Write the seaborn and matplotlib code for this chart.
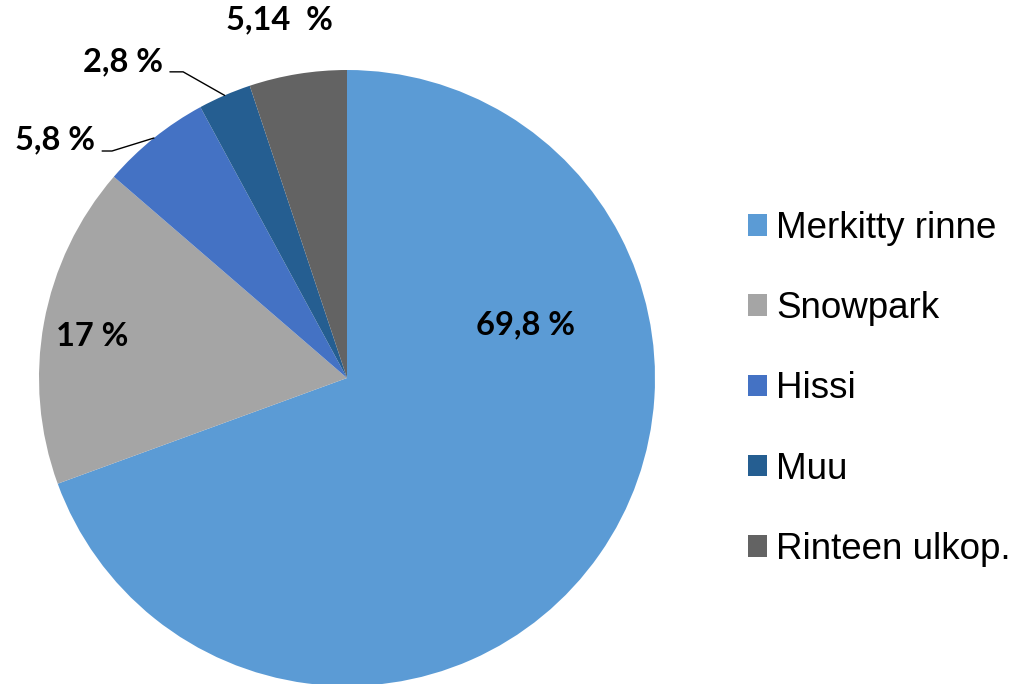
import numpy as np
import matplotlib.pyplot as plt
import seaborn as sns
from matplotlib.patches import Patch

sns.set_style("white")
plt.rcParams['font.family'] = ['Liberation Sans', 'DejaVu Sans']
plt.rcParams['text.color'] = 'black'

# data
categories = ['Merkitty rinne', 'Snowpark', 'Hissi', 'Muu', 'Rinteen ulkop.']
shares = [69.8, 17, 5.8, 2.8, 5.14]
value_labels = ['69,8 %', '17 %', '5,8 %', '2,8 %', '5,14  %']
palette = sns.color_palette(['#5B9BD5', '#A5A5A5', '#4472C4', '#255E91', '#636363'])

fig = plt.figure(figsize=(10.16, 6.84), dpi=100)
ax = fig.add_axes([39 / 1016, -2 / 684, 616 / 1016, 616 / 684])

wedges, _ = ax.pie(shares, colors=palette, startangle=90, counterclock=False,
                   radius=1, wedgeprops=dict(linewidth=0))
ax.set_xlim(-1, 1)
ax.set_ylim(-1, 1)
ax.set_aspect('equal')
ax.axis('off')

lbl_font = dict(family=['Lato', 'DejaVu Sans'], fontweight='bold', fontsize=23.5,
                ha='center', va='center', color='black')

# inside labels
ax.text(0.578, 0.172, value_labels[0], **lbl_font)
ax.text(-0.828, 0.136, value_labels[1], **lbl_font)
# outside labels with leader lines for the small slices
ax.text(-0.218, 1.162, value_labels[4], clip_on=False, **lbl_font)

leaders = {2: ((-0.948, 0.773), [(-0.763, 0.737), (-0.795, 0.737)]),
           3: ((-0.727, 1.026), [(-0.532, 0.994), (-0.575, 0.994)])}
for i, (txt_pos, bends) in leaders.items():
    w = wedges[i]
    mid = np.deg2rad((w.theta1 + w.theta2) / 2)
    xs = [np.cos(mid)] + [b[0] for b in bends]
    ys = [np.sin(mid)] + [b[1] for b in bends]
    ax.plot(xs, ys, color='black', linewidth=1, clip_on=False)
    ax.text(txt_pos[0], txt_pos[1], value_labels[i], clip_on=False, **lbl_font)

handles = [Patch(facecolor=c, edgecolor='none') for c in palette]
fig.legend(handles, categories, loc='center left',
           bbox_to_anchor=(748 / 1016, 1 - 389 / 684),
           frameon=False, fontsize=26.5, borderpad=0, borderaxespad=0,
           handlelength=0.52, handleheight=0.52, handletextpad=0.25,
           labelspacing=1.23, labelcolor='black')

fig.savefig('out.png', dpi=100)
